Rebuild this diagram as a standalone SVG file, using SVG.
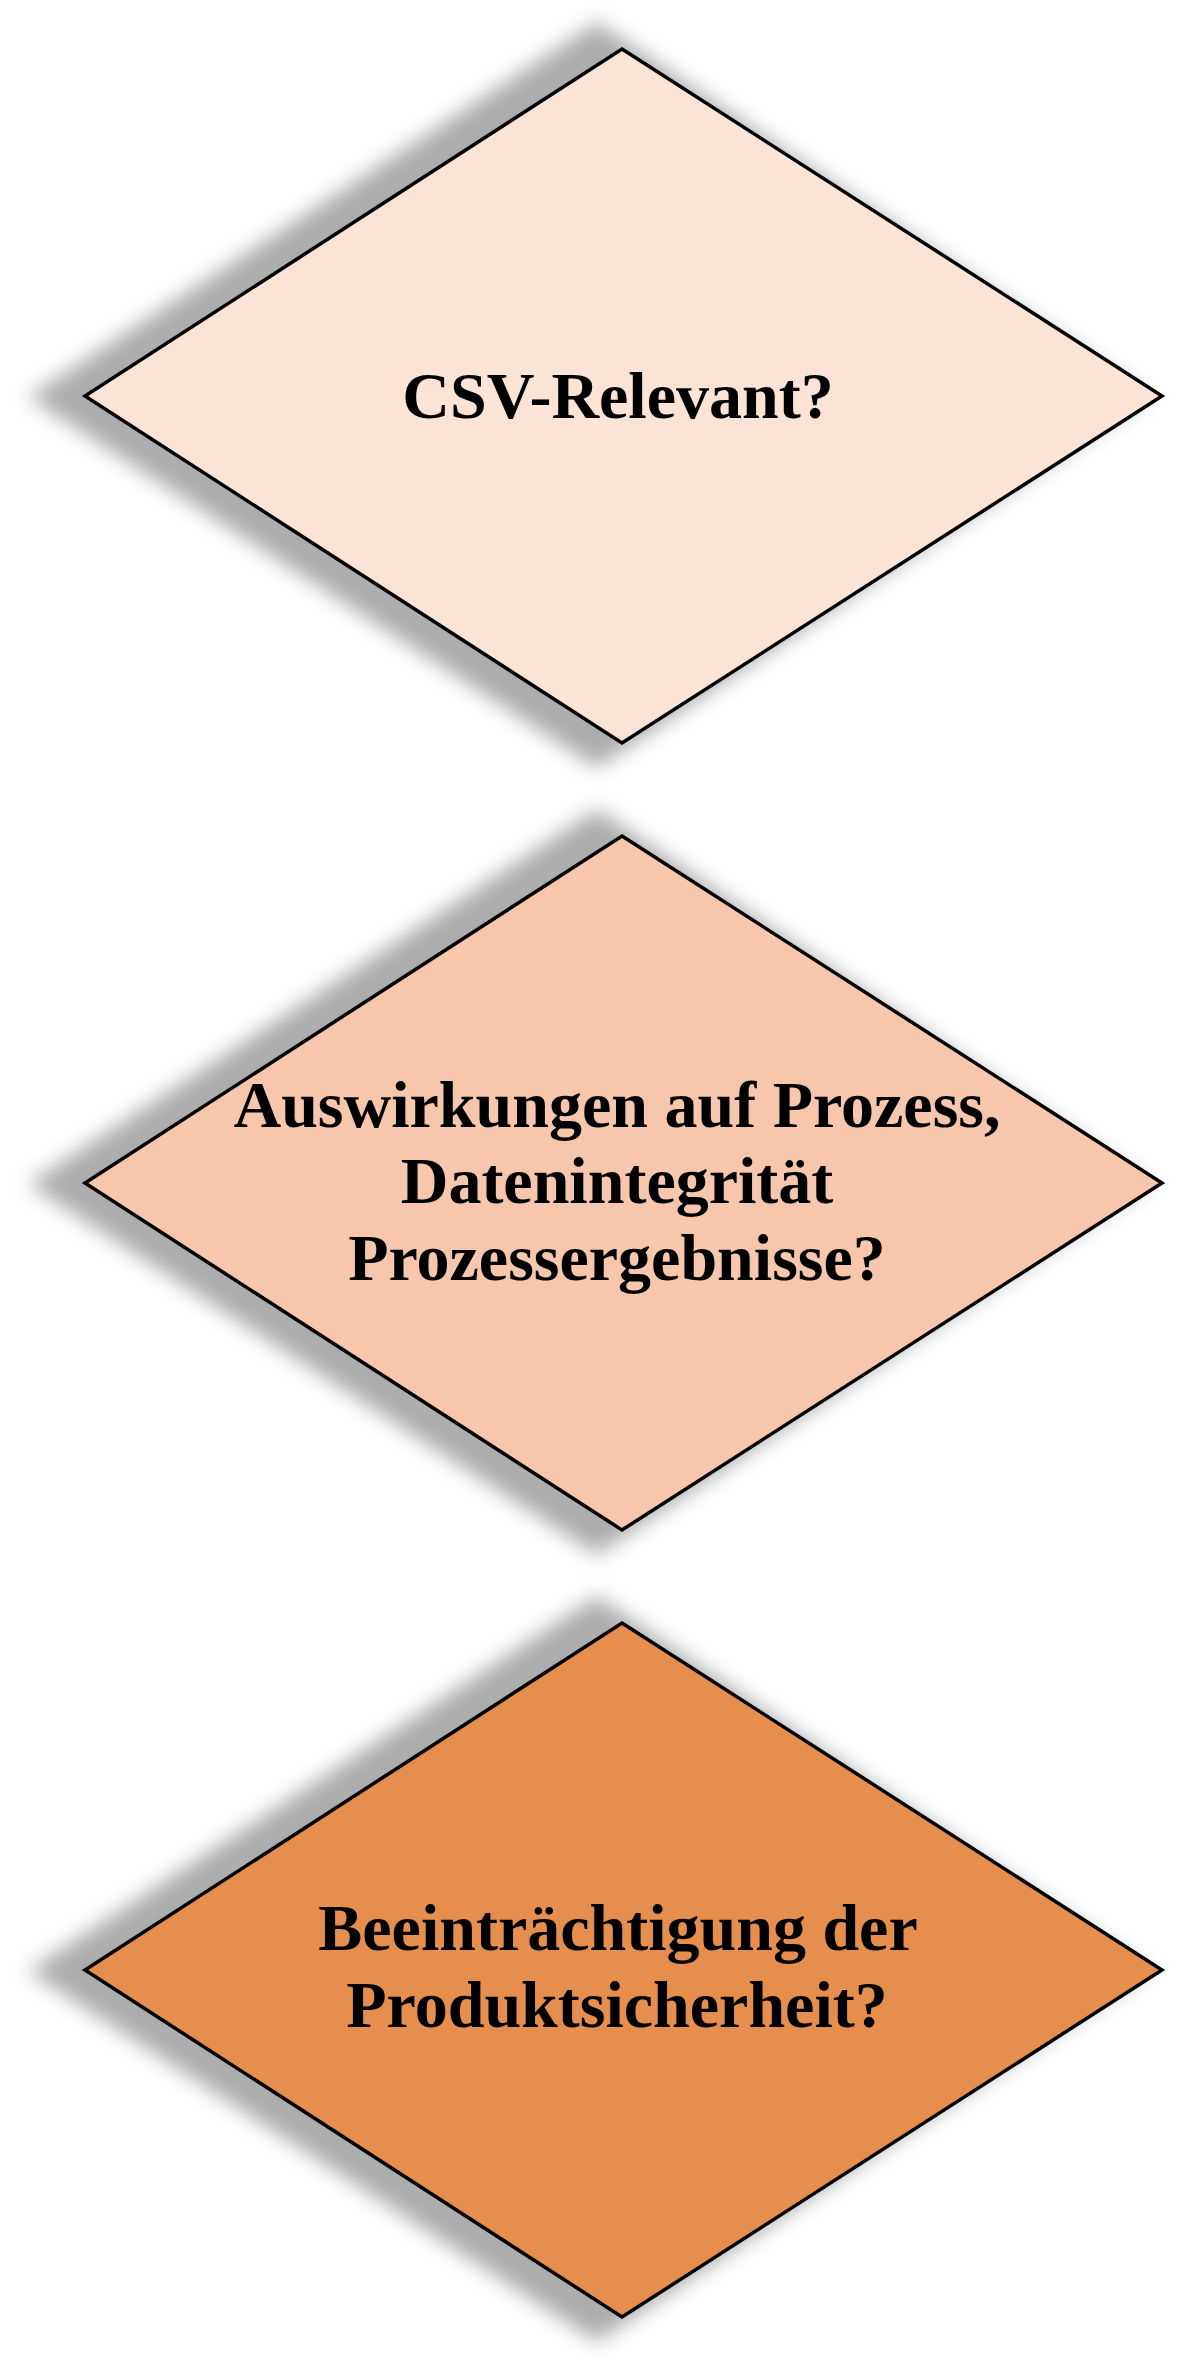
<svg xmlns="http://www.w3.org/2000/svg" width="1187" height="2360" viewBox="0 0 1187 2360">
  <style>
    .shape { stroke: #000000; stroke-width: 3.5; stroke-linejoin: miter; }
    .shadow { fill: #000000; fill-opacity: 0.32; filter: url(#blur); }
    .label { font-family: "Liberation Serif", "Times New Roman", serif; font-weight: bold; font-size: 66px; fill: #000000; text-anchor: middle; }
  </style>
  <defs>
    <filter id="blur" x="-20%" y="-20%" width="140%" height="140%">
      <feGaussianBlur stdDeviation="10"/>
    </filter>
  </defs>
  <rect x="0" y="0" width="1187" height="2360" fill="#ffffff"/>

  <g id="node-csv-relevant">
    <polygon class="shadow" points="597,22 1148,397 597,768 28,397"/>
    <polygon class="shape" fill="#FBE3D6" points="622,49 1162,396 622,743 85,396"/>
    <text class="label" x="618" y="418">CSV-Relevant?</text>
  </g>

  <g id="node-auswirkungen" transform="translate(0,787)">
    <polygon class="shadow" points="597,22 1148,397 597,768 28,397"/>
    <polygon class="shape" fill="#F6C6AD" points="622,49 1162,396 622,743 85,396"/>
    <text class="label" x="617" y="340">Auswirkungen auf Prozess,</text>
    <text class="label" x="617" y="416">Datenintegrität</text>
    <text class="label" x="617" y="493">Prozessergebnisse?</text>
  </g>

  <g id="node-beeintraechtigung" transform="translate(0,1574)">
    <polygon class="shadow" points="597,22 1148,397 597,768 28,397"/>
    <polygon class="shape" fill="#E68E4E" points="622,49 1162,396 622,743 85,396"/>
    <text class="label" x="618" y="376">Beeinträchtigung der</text>
    <text class="label" x="617" y="453">Produktsicherheit?</text>
  </g>

  <g id="connectors"/>
</svg>
